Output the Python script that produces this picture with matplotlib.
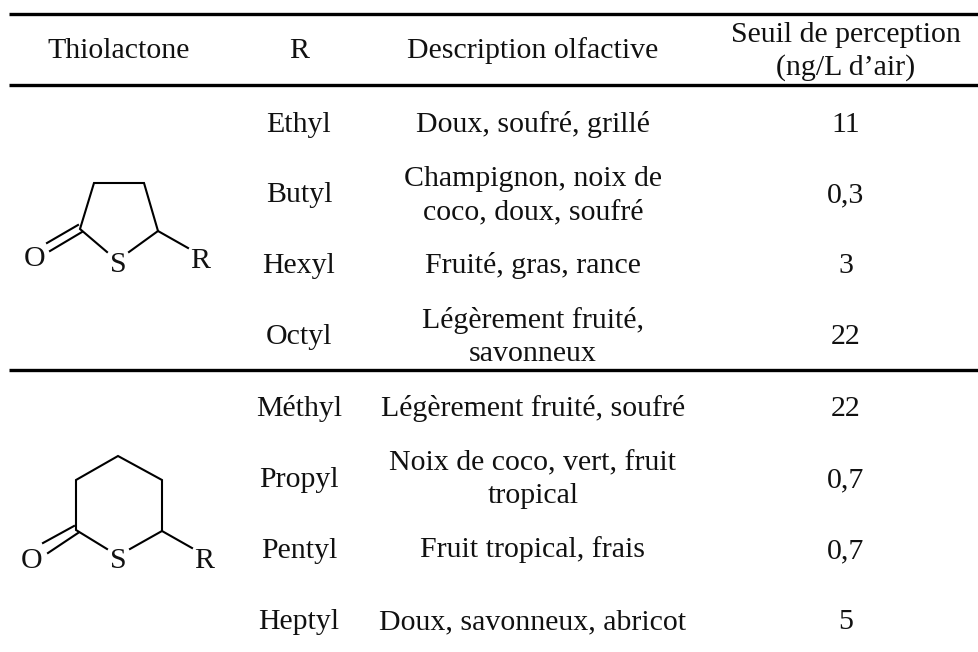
import matplotlib

matplotlib.use("Agg", force=True)
import matplotlib.pyplot as plt

W, H = 979, 652
FS = 21.5
INK = "#111111"

HEADERS = ["Thiolactone", "R", "Description olfactive", "Seuil de perception\n(ng/L d\u2019air)"]
GROUPS = ["Ethyl", "Butyl", "Hexyl", "Octyl", "M\u00e9thyl", "Propyl", "Pentyl", "Heptyl"]
ODOURS = [
    "Doux, soufr\u00e9, grill\u00e9",
    "Champignon, noix de\ncoco, doux, soufr\u00e9",
    "Fruit\u00e9, gras, rance",
    "L\u00e9g\u00e8rement fruit\u00e9,\nsavonneux",
    "L\u00e9g\u00e8rement fruit\u00e9, soufr\u00e9",
    "Noix de coco, vert, fruit\ntropical",
    "Fruit tropical, frais",
    "Doux, savonneux, abricot",
]
THRESHOLDS = ["11", "0,3", "3", "22", "22", "0,7", "0,7", "5"]
# baselines in pixels, last line for the two line cells
ROW_Y = [132, 202, 273, 344, 416, 487, 558, 629]
ODOUR_Y = [132, 219, 273, 361, 416, 503, 557, 629]
HEADER_Y = [58, 58, 58, 75]
COL_X = [119, 299, 533, 846]

# bonds of the two molecules, pixel coords
RING5 = [[(107, 252), (80, 229), (94, 183), (144, 183), (158, 231), (129, 252)], [(158, 231), (188, 248)],
         [(47, 243), (78, 225)], [(50, 251), (82, 232)]]
RING6 = [[(107, 549), (76, 530), (76, 480), (118, 456), (162, 480), (162, 531), (130, 549)], [(162, 531), (192, 548)],
         [(43, 543), (74, 526)], [(48, 553), (78, 533)]]
ATOMS5 = [("O", 35, 266), ("S", 118, 272), ("R", 200, 268)]
ATOMS6 = [("O", 32, 568), ("S", 118, 568), ("R", 204, 568)]

plt.rcParams["font.family"] = ["Liberation Serif", "DejaVu Serif"]
fig = plt.figure(figsize=(W / 100, H / 100), dpi=100)
ax = fig.add_axes([0, 0, 1, 1])
ax.set_xlim(0, W)
ax.set_ylim(H, 0)
ax.axis("off")

for y in [13.5, 85, 370]:
    ax.plot([9, W], [y, y], color="black", lw=2.4, solid_capstyle="butt")

for x, y, head in zip(COL_X, HEADER_Y, HEADERS):
    ax.text(x, y, head, ha="center", va="baseline", fontsize=FS, color=INK, linespacing=1.33)

for y, oy, group, odour, thr in zip(ROW_Y, ODOUR_Y, GROUPS, ODOURS, THRESHOLDS):
    ax.text(COL_X[1], y, group, ha="center", va="baseline", fontsize=FS, color=INK)
    ax.text(COL_X[2], oy, odour, ha="center", va="baseline", fontsize=FS, color=INK, linespacing=1.33)
    ax.text(COL_X[3], y, thr, ha="center", va="baseline", fontsize=FS, color=INK)

for bonds, atoms in [(RING5, ATOMS5), (RING6, ATOMS6)]:
    for b in bonds:
        ax.plot([p[0] for p in b], [p[1] for p in b], color="black", lw=1.5, solid_joinstyle="miter")
    for name, x, y in atoms:
        ax.text(x, y, name, ha="center", va="baseline", fontsize=FS, color=INK)

fig.savefig("out.png", dpi=100)
plt.close(fig)
